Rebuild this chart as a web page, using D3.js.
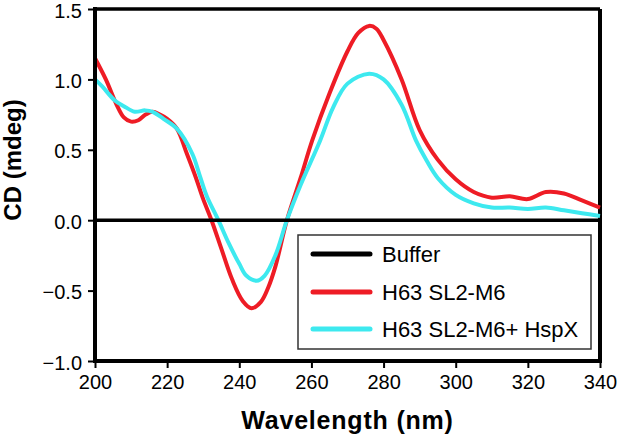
<!DOCTYPE html>
<html><head><meta charset="utf-8">
<script src="https://cdn.jsdelivr.net/npm/d3@7"></script>
<style>
body{margin:0;background:#fff;}
svg{display:block;font-family:"Liberation Sans",Arial,sans-serif;}
</style></head><body>
<svg id="chart" width="618" height="437"></svg>
<script>
const seriesNames = ["Buffer", "H63 SL2-M6", "H63 SL2-M6+ HspX"];
const seriesColors = ["#000000", "#ee1c25", "#3de9ef"];
const xTicks = [200, 220, 240, 260, 280, 300, 320, 340];
const yTicks = [-1.0, -0.5, 0.0, 0.5, 1.0, 1.5];

const bufferWl = [200, 340];
const bufferCd = [0, 0];

const redWl = [200, 203, 206, 208, 210, 212, 214, 216, 218, 220, 222.7, 225.5, 228, 230, 232.3, 235, 238, 241, 243.4, 246, 248, 250, 253.2, 257, 260.2, 265, 270, 273, 276, 278, 280, 285, 290, 295, 300, 305, 310, 315, 320, 325, 330, 335, 340];
const redCd = [1.15, 1.0, 0.82, 0.73, 0.70, 0.71, 0.75, 0.77, 0.75, 0.72, 0.65, 0.47, 0.30, 0.15, 0.0, -0.2, -0.42, -0.575, -0.625, -0.58, -0.48, -0.33, 0.0, 0.30, 0.565, 0.90, 1.20, 1.33, 1.38, 1.36, 1.28, 1.0, 0.64, 0.43, 0.29, 0.20, 0.16, 0.17, 0.15, 0.20, 0.19, 0.14, 0.09];

const cyanWl = [200, 202, 205.5, 208, 211, 213.9, 216, 219, 222.7, 227, 229, 231, 234.2, 237, 240, 242, 244.8, 247, 250, 253.2, 257, 262.4, 266, 270, 276, 280, 285, 289, 292, 295, 300, 305, 310, 315, 320, 325, 330, 335, 340];
const cyanCd = [1.0, 0.95, 0.85, 0.81, 0.77, 0.78, 0.77, 0.72, 0.65, 0.47, 0.32, 0.17, 0.0, -0.16, -0.31, -0.395, -0.43, -0.395, -0.25, 0.0, 0.25, 0.565, 0.80, 0.97, 1.04, 1.0, 0.82, 0.565, 0.42, 0.30, 0.18, 0.12, 0.09, 0.09, 0.08, 0.09, 0.07, 0.05, 0.03];

const svg = d3.select("#chart");
const L = 95, R = 600, T = 9, B = 361;
const x = d3.scaleLinear().domain([200, 340]).range([L, R]);
const y = d3.scaleLinear().domain([-1.0, 1.5]).range([B, T]);

const line = d3.line().x(d => x(d[0])).y(d => y(d[1])).curve(d3.curveCatmullRom.alpha(0.5));

const series = [
  d3.zip(bufferWl, bufferCd),
  d3.zip(redWl, redCd),
  d3.zip(cyanWl, cyanCd)
];

// top & right frame
svg.append("line").attr("x1", L).attr("x2", R).attr("y1", T).attr("y2", T).attr("stroke", "#000").attr("stroke-width", 3.5);
svg.append("line").attr("x1", R).attr("x2", R).attr("y1", T).attr("y2", B).attr("stroke", "#000").attr("stroke-width", 4);

// data lines
[1, 2].forEach(i => {
  svg.append("path").datum(series[i]).attr("d", line).attr("fill", "none")
    .attr("stroke", seriesColors[i]).attr("stroke-width", 4).attr("stroke-linejoin", "round");
});
svg.append("path").datum(series[0]).attr("d", d3.line().x(d => x(d[0])).y(d => y(d[1])))
  .attr("fill", "none").attr("stroke", seriesColors[0]).attr("stroke-width", 3.5);

// axes
const xAxis = d3.axisBottom(x).tickValues(xTicks).tickSize(7).tickPadding(7).tickFormat(d3.format("d"));
const gx = svg.append("g").attr("transform", `translate(0,${B})`).call(xAxis);
gx.select(".domain").attr("stroke-width", 4).attr("d", `M${L - 2},0H${R + 2}`);
gx.selectAll(".tick line").attr("stroke-width", 2);
gx.selectAll("text").attr("font-size", 20).attr("fill", "#000").attr("font-family", "Liberation Sans, Arial, sans-serif");

const yAxis = d3.axisLeft(y).tickValues(yTicks).tickSize(7).tickPadding(6)
  .tickFormat(d => d3.format(".1f")(d).replace("-", "\u2212"));
const gy = svg.append("g").attr("transform", `translate(${L},0)`).call(yAxis);
gy.select(".domain").attr("stroke-width", 4).attr("d", `M0,${T - 2}V${B + 2}`);
gy.selectAll(".tick line").attr("stroke-width", 2);
gy.selectAll("text").attr("font-size", 20).attr("dy", "0.4em").attr("fill", "#000").attr("font-family", "Liberation Sans, Arial, sans-serif");

// titles
svg.append("text").attr("x", (L + R) / 2).attr("y", 429).attr("text-anchor", "middle")
  .attr("font-size", 25).attr("font-weight", "bold").attr("letter-spacing", 0.8).text("Wavelength (nm)");
svg.append("text").attr("transform", "translate(21,160) rotate(-90)").attr("text-anchor", "middle")
  .attr("font-size", 24).attr("font-weight", "bold").text("CD (mdeg)");

// legend
const lg = svg.append("g");
lg.append("rect").attr("x", 298).attr("y", 235).attr("width", 293).attr("height", 114)
  .attr("fill", "#fff").attr("stroke", "#333").attr("stroke-width", 1.5);
const rowsY = [254, 292, 329];
seriesNames.forEach((n, i) => {
  lg.append("line").attr("x1", 313).attr("x2", 370).attr("y1", rowsY[i]).attr("y2", rowsY[i])
    .attr("stroke", seriesColors[i]).attr("stroke-width", 5).attr("stroke-linecap", "round");
  lg.append("text").attr("x", 382).attr("y", rowsY[i] + 8).attr("font-size", 22).attr("fill", "#000").text(n);
});
</script>
</body></html>
